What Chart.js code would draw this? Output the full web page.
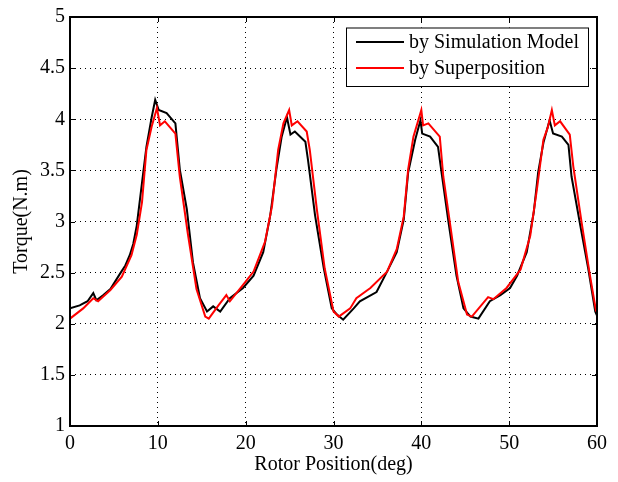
<!DOCTYPE html>
<html>
<head>
<meta charset="utf-8">
<script src="https://cdn.jsdelivr.net/npm/chart.js@4/dist/chart.umd.min.js"></script>
<style>
  body { margin: 0; background: #fff; }
  #wrap { width: 618px; height: 482px; }
</style>
</head>
<body>
<div id="wrap"><canvas id="torque-chart" width="618" height="482"></canvas></div>
<script>
// rotor position (deg) / torque (N.m)
var simAngle = [0, 1.1, 2.0, 2.65, 3.0, 3.8, 4.6, 5.7, 6.3, 6.8, 7.2, 7.6, 8.2, 8.7, 9.3, 9.7, 10.1, 11.0, 12.0, 12.5, 13.3, 14.0, 14.8, 15.6, 16.3, 17.1, 18.2, 19.7, 20.9, 22.0, 22.8, 23.5, 24.1, 24.7, 25.1, 25.6, 26.8, 27.1, 27.9, 28.9, 29.8, 30.4, 31.1, 32.3, 33.0, 34.9, 36.1, 37.2, 38.0, 38.5, 39.3, 39.9, 40.1, 41.0, 41.9, 42.3, 43.1, 44.0, 44.8, 45.6, 46.5, 47.8, 49.0, 50.1, 50.9, 52.0, 52.8, 53.3, 53.9, 54.6, 55.0, 56.0, 56.75, 57.1, 58.1, 59.0, 59.8, 60];
var simTorque = [2.15, 2.18, 2.22, 2.30, 2.23, 2.28, 2.34, 2.49, 2.57, 2.67, 2.78, 2.96, 3.38, 3.73, 4.02, 4.19, 4.09, 4.06, 3.96, 3.51, 3.12, 2.60, 2.25, 2.12, 2.17, 2.12, 2.25, 2.35, 2.47, 2.70, 3.06, 3.51, 3.83, 4.02, 3.85, 3.88, 3.78, 3.60, 3.06, 2.54, 2.15, 2.09, 2.04, 2.15, 2.22, 2.31, 2.51, 2.70, 3.02, 3.48, 3.80, 3.99, 3.86, 3.83, 3.73, 3.48, 2.99, 2.47, 2.15, 2.07, 2.05, 2.22, 2.28, 2.35, 2.47, 2.70, 3.09, 3.48, 3.77, 3.99, 3.86, 3.83, 3.75, 3.44, 2.96, 2.54, 2.12, 2.08];

var supAngle = [0, 1.5, 2.65, 3.2, 4.6, 5.9, 7.0, 7.6, 8.2, 8.7, 9.3, 9.9, 10.25, 10.8, 12.0, 12.5, 13.4, 14.4, 15.4, 15.8, 16.9, 17.8, 18.2, 19.7, 20.9, 22.2, 23.0, 23.7, 24.3, 24.95, 25.25, 25.9, 26.95, 27.3, 28.1, 29.0, 30.0, 30.6, 31.9, 32.6, 34.2, 36.1, 37.2, 38.0, 38.5, 39.1, 40.0, 40.2, 40.8, 42.1, 42.5, 43.3, 44.2, 45.2, 45.75, 47.6, 48.2, 49.7, 51.3, 52.4, 53.15, 53.9, 54.4, 54.86, 55.2, 55.8, 56.9, 57.3, 58.25, 59.2, 59.9];
var supTorque = [2.05, 2.15, 2.25, 2.22, 2.33, 2.46, 2.67, 2.87, 3.19, 3.70, 3.93, 4.11, 3.94, 3.98, 3.86, 3.44, 2.89, 2.34, 2.07, 2.05, 2.18, 2.28, 2.22, 2.38, 2.51, 2.80, 3.15, 3.70, 3.96, 4.09, 3.94, 3.98, 3.88, 3.70, 3.12, 2.54, 2.12, 2.07, 2.15, 2.25, 2.35, 2.51, 2.73, 3.05, 3.51, 3.83, 4.09, 3.94, 3.96, 3.83, 3.44, 2.96, 2.41, 2.09, 2.07, 2.26, 2.24, 2.35, 2.53, 2.86, 3.31, 3.80, 3.92, 4.09, 3.94, 3.98, 3.85, 3.54, 2.99, 2.47, 2.12];

var seriesNames = ["by Simulation Model", "by Superposition"];
var seriesColors = ["#000000", "#ff0000"];

var FONT = "'Liberation Serif', 'Times New Roman', serif";

function toPoints(xs, ys){
    var pts = [];
    for(var i = 0; i < xs.length; i++){
        pts.push({x: xs[i], y: ys[i]});
    }
    return pts;
}

// matlab style box with inward ticks
var axesBox = {
    id: 'axesBox',
    afterDatasetsDraw(chart){
        var ctx = chart.ctx, a = chart.chartArea;
        var xs = chart.scales.x, ys = chart.scales.y;
        ctx.save();
        ctx.strokeStyle = '#000';
        ctx.lineWidth = 1;
        ctx.beginPath();
        xs.ticks.forEach(function(t){
            var px = Math.round(xs.getPixelForValue(t.value)) + 0.5;
            ctx.moveTo(px, a.bottom); ctx.lineTo(px, a.bottom - 5);
            ctx.moveTo(px, a.top); ctx.lineTo(px, a.top + 5);
        });
        ys.ticks.forEach(function(t){
            var py = Math.round(ys.getPixelForValue(t.value)) + 0.5;
            ctx.moveTo(a.left, py); ctx.lineTo(a.left + 5, py);
            ctx.moveTo(a.right, py); ctx.lineTo(a.right - 5, py);
        });
        ctx.stroke();
        ctx.lineWidth = 2;
        ctx.strokeRect(a.left, a.top, a.right - a.left, a.bottom - a.top);
        ctx.restore();
    }
};

var boxLegend = {
    id: 'boxLegend',
    afterDraw(chart){
        var ctx = chart.ctx, a = chart.chartArea;
        var w = 242, h = 58.5;
        var left = a.right - 9 - w, top = a.top + 10.5;
        ctx.save();
        ctx.fillStyle = '#fff';
        ctx.fillRect(left, top, w, h);
        ctx.strokeStyle = '#000';
        ctx.lineWidth = 1;
        ctx.strokeRect(left + 0.5, top + 0.5, w, h);
        ctx.font = '20px ' + FONT;
        ctx.textBaseline = 'middle';
        chart.data.datasets.forEach(function(ds, i){
            var y = top + 14.5 + i * 26;
            ctx.strokeStyle = ds.borderColor;
            ctx.lineWidth = 2;
            ctx.beginPath();
            ctx.moveTo(left + 10, y); ctx.lineTo(left + 58, y);
            ctx.stroke();
            ctx.fillStyle = '#000';
            ctx.fillText(ds.label, left + 63, y + 1);
        });
        ctx.restore();
    }
};

var chart = new Chart("torque-chart", {
    type: 'line',
    data: {
        datasets: [{
            label: seriesNames[0],
            data: toPoints(simAngle, simTorque),
            borderColor: seriesColors[0],
            borderWidth: 2,
            pointRadius: 0,
            tension: 0,
            order: 1
        }, {
            label: seriesNames[1],
            data: toPoints(supAngle, supTorque),
            borderColor: seriesColors[1],
            borderWidth: 2,
            pointRadius: 0,
            tension: 0,
            order: 0
        }]
    },
    options: {
        responsive: false,
        animation: false,
        devicePixelRatio: 1,
        layout: { padding: { top: 12, right: 21, left: 0, bottom: 0 } },
        scales: {
            x: {
                type: 'linear',
                min: 0, max: 60,
                ticks: { stepSize: 10, color: '#000', padding: 6, font: { family: FONT, size: 20 },
                    callback: function(v){ return String(v); } },
                grid: { color: '#000', lineWidth: 1, drawTicks: false },
                border: { display: false, dash: [1, 4] },
                title: { display: true, text: 'Rotor Position(deg)', color: '#000', font: { family: FONT, size: 20 }, padding: { top: 0, bottom: 5 } },
                afterFit: function(scale){ scale.height = 56; }
            },
            y: {
                min: 1, max: 5,
                ticks: { stepSize: 0.5, color: '#000', padding: 5, font: { family: FONT, size: 20 },
                    callback: function(v){ return String(v); } },
                grid: { color: '#000', lineWidth: 1, drawTicks: false },
                border: { display: false, dash: [1, 4] },
                title: { display: true, text: 'Torque(N.m)', color: '#000', font: { family: FONT, size: 20 }, padding: { top: 10, bottom: 0 } },
                afterFit: function(scale){ scale.width = 70; }
            }
        },
        plugins: {
            legend: { display: false },
            tooltip: { enabled: false }
        }
    },
    plugins: [axesBox, boxLegend]
});
</script>
</body>
</html>
